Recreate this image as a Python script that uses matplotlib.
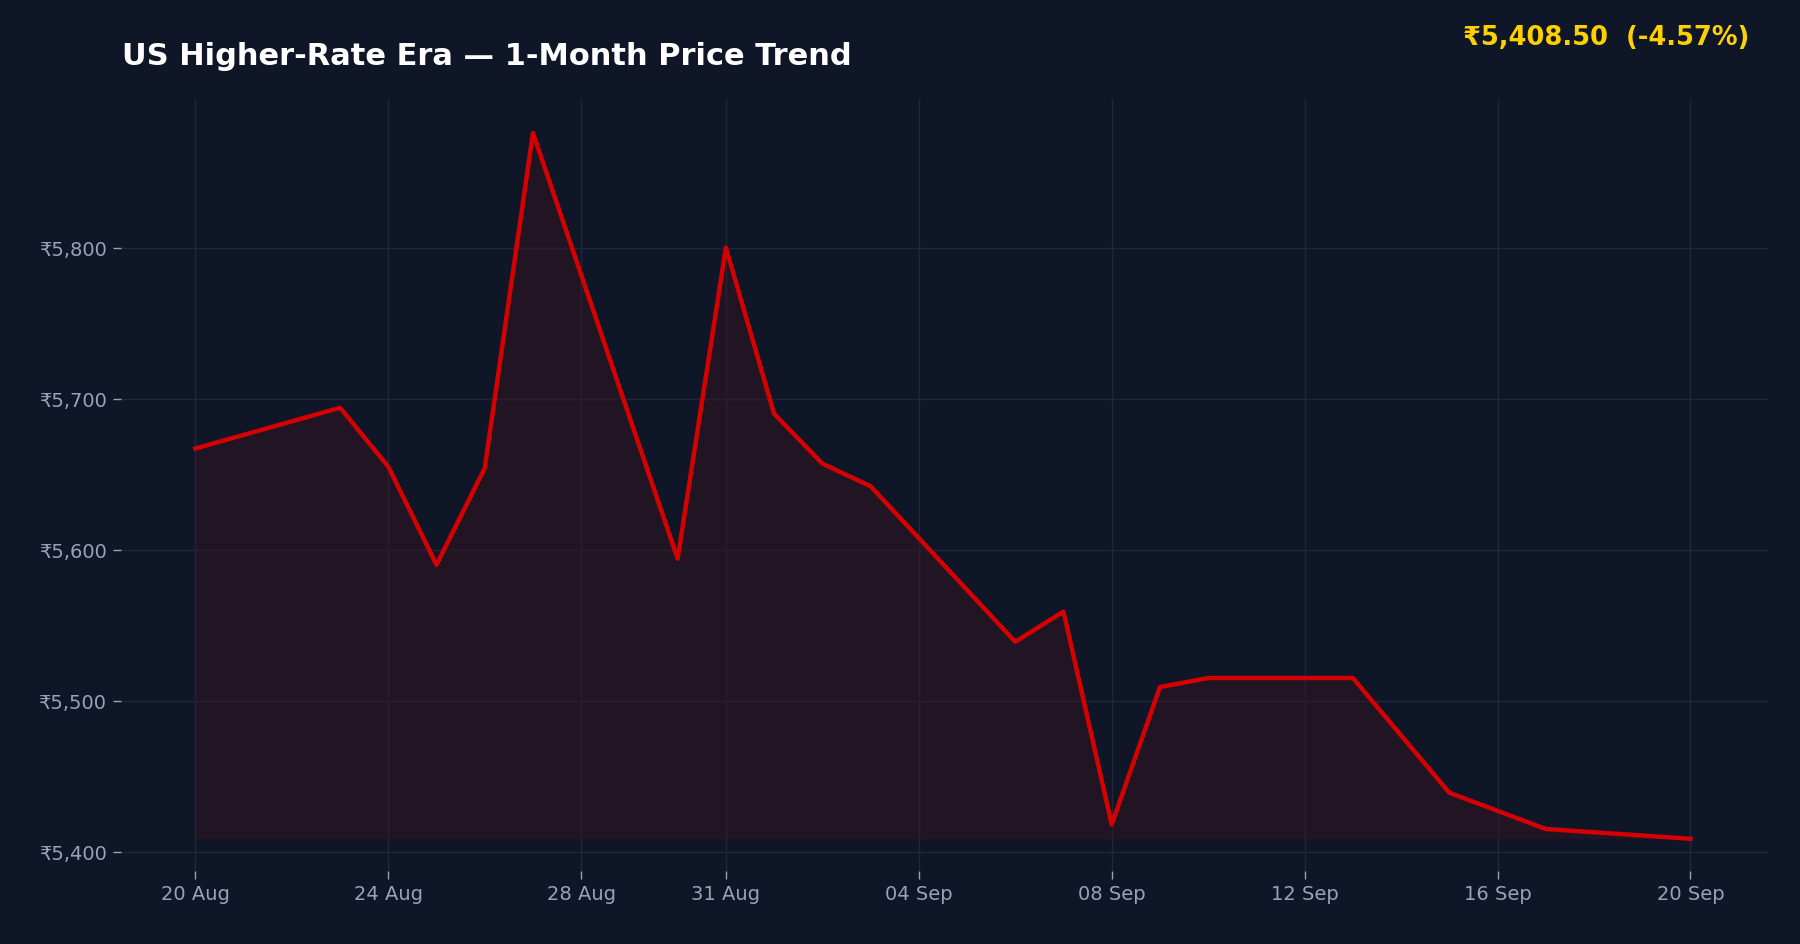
import matplotlib.pyplot as plt
import matplotlib.dates as mdates
import numpy as np
import pandas as pd

dates = pd.to_datetime([
    "2023-08-20", "2023-08-23", "2023-08-24", "2023-08-25", "2023-08-26", "2023-08-27",
    "2023-08-30", "2023-08-31", "2023-09-01", "2023-09-02", "2023-09-03", "2023-09-06",
    "2023-09-07", "2023-09-08", "2023-09-09", "2023-09-10", "2023-09-13", "2023-09-15",
    "2023-09-17", "2023-09-20",
])
prices = [5667, 5694, 5655, 5590, 5654, 5876, 5594, 5800, 5690, 5657,
          5642, 5539, 5559, 5418, 5509, 5515, 5515, 5439, 5415, 5408.5]
tick_dates = pd.to_datetime(["2023-08-20", "2023-08-24", "2023-08-28", "2023-08-31", "2023-09-04",
                             "2023-09-08", "2023-09-12", "2023-09-16", "2023-09-20"])
y_ticks = [5400, 5500, 5600, 5700, 5800]

bg = "#0E1628"
fig = plt.figure(figsize=(18, 9.45), dpi=100)
fig.patch.set_facecolor(bg)
ax = fig.add_axes([0.067, 0.077, 0.915, 0.818])
ax.set_facecolor(bg)

ax.fill_between(dates, prices, min(prices), color="#3a1420", alpha=0.45, linewidth=0)
ax.plot(dates, prices, color="#D50000", linewidth=3.2)

ax.set_xticks(tick_dates)
ax.xaxis.set_major_formatter(mdates.DateFormatter("%d %b"))
ax.set_yticks(y_ticks)
ax.yaxis.set_major_formatter(plt.FuncFormatter(lambda v, _: f"₹{v:,.0f}"))
ax.set_xlim(dates[0] - pd.Timedelta(days=1.55), dates[-1] + pd.Timedelta(days=1.6))
ax.set_ylim(5387, 5899)

ax.grid(color="#1f2738", linewidth=1)
ax.set_axisbelow(True)
for s in ax.spines.values():
    s.set_visible(False)
ax.tick_params(colors="#9aa3b5", labelsize=14, length=6, width=1)

fig.text(0.068, 0.94, "US Higher-Rate Era — 1-Month Price Trend", color="white",
         fontsize=22, fontweight="bold", va="center")
fig.text(0.972, 0.96, "₹5,408.50  (-4.57%)", color="#FFD000",
         fontsize=18.5, fontweight="bold", ha="right", va="center")

fig.savefig("out.png", dpi=100, facecolor=bg)
